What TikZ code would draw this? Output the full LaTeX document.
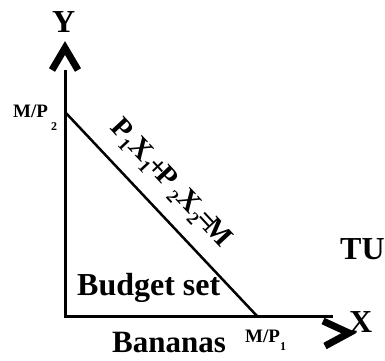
\documentclass[tikz,border=0pt]{standalone}
\usepackage{fontspec}
\setmainfont{Liberation Serif}
\usetikzlibrary{positioning}

\newcommand{\sbs}[2][-7pt]{\raisebox{#1}{\fontsize{12}{12}\selectfont #2}}
\newcommand{\eqsub}[1]{\raisebox{-6pt}{\fontsize{18}{18}\selectfont #1}}

\begin{document}
\begin{tikzpicture}[
			x=1pt, y=-1pt,
			lab/.style={
				inner sep=0pt,
				anchor=base west,
				font=\fontsize{32}{32}\selectfont\bfseries
			},
			small lab/.style={
				inner sep=0pt,
				anchor=base west,
				font=\fontsize{19}{19}\selectfont\bfseries
			},
			axis/.style={line width=3pt},
			chevron/.style={line width=7pt, line join=miter, miter limit=20},
			budget/.style={line width=2.5pt}
			]
			\useasboundingbox (0,0) rectangle (385,360);
			
			% axes
			\coordinate (O) at (65,316);
			\coordinate (ytop) at (65,70);
			\coordinate (xend) at (333,316);
			\draw[axis] (ytop) -- (O) -- (xend);
			
			% the open heads
			\coordinate (yapex) at (65,48);
			\coordinate (xapex) at (349,333);
			\draw[chevron] (52,70) -- (yapex) -- (78,70);
			\draw[chevron] (323,321) -- (xapex) -- (325,346);
			
			% budget line
			\coordinate (A) at (65,112);
			\coordinate (B) at (257,316);
			\draw[budget] (A) -- (B);
			
			\node[lab] (ylab) at (52,32) {Y};
			\node[lab] (xlab) at (349,332) {X};
			\node[lab] (tu) at (340,259) {TU};
			\node[lab] (bset) at (77,295) {Budget set};
			\node[lab, font=\fontsize{31}{31}\selectfont\bfseries] (bananas) at (112,352) {Bananas};
			
			\node[small lab] (mp2) at (13,117) {M/P\,\sbs[-13pt]{2}};
			\node[small lab] (mp1) at (245,342) {M/P\sbs[-8pt]{1}};
			
			\node[font=\fontsize{29}{29}\selectfont\bfseries, inner sep=0pt, rotate=-47] (eq) at (170,184)
			{P\eqsub{1}X\eqsub{1}\kern-3pt+\kern-4pt P\,\eqsub{2}X\eqsub{2}\kern-2pt=\kern-5pt M};
			
\end{tikzpicture}
\end{document}
